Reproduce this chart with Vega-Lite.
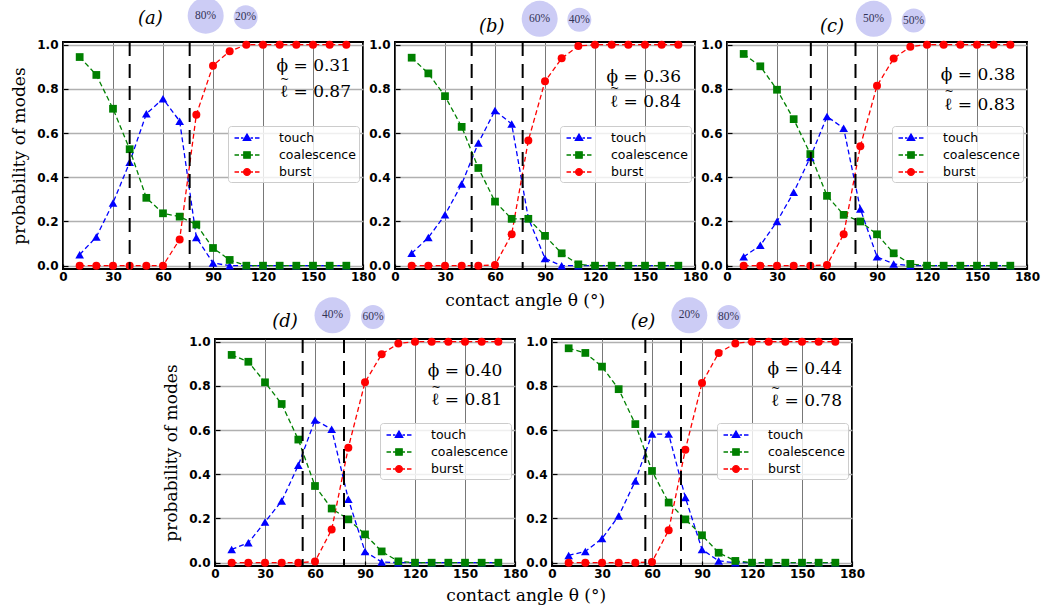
{
"$schema": "https://vega.github.io/schema/vega-lite/v6.json",
"background": "white",
"padding": {"left": 9, "top": -4, "right": 0, "bottom": 0},
"datasets": {
"series": [
{"panel":"a","mode":"touch","theta":10,"p":0.05},{"panel":"a","mode":"touch","theta":20,"p":0.13},{"panel":"a","mode":"touch","theta":30,"p":0.284},{"panel":"a","mode":"touch","theta":40,"p":0.468},{"panel":"a","mode":"touch","theta":50,"p":0.687},{"panel":"a","mode":"touch","theta":60,"p":0.755},{"panel":"a","mode":"touch","theta":70,"p":0.654},{"panel":"a","mode":"touch","theta":80,"p":0.128},{"panel":"a","mode":"touch","theta":90,"p":0.012},{"panel":"a","mode":"touch","theta":100,"p":0},{"panel":"a","mode":"touch","theta":110,"p":0},{"panel":"a","mode":"touch","theta":120,"p":0},{"panel":"a","mode":"touch","theta":130,"p":0},{"panel":"a","mode":"touch","theta":140,"p":0},{"panel":"a","mode":"touch","theta":150,"p":0},{"panel":"a","mode":"touch","theta":160,"p":0},{"panel":"a","mode":"touch","theta":170,"p":0},
{"panel":"a","mode":"coalescence","theta":10,"p":0.944},{"panel":"a","mode":"coalescence","theta":20,"p":0.863},{"panel":"a","mode":"coalescence","theta":30,"p":0.71},{"panel":"a","mode":"coalescence","theta":40,"p":0.527},{"panel":"a","mode":"coalescence","theta":50,"p":0.307},{"panel":"a","mode":"coalescence","theta":60,"p":0.237},{"panel":"a","mode":"coalescence","theta":70,"p":0.222},{"panel":"a","mode":"coalescence","theta":80,"p":0.186},{"panel":"a","mode":"coalescence","theta":90,"p":0.08},{"panel":"a","mode":"coalescence","theta":100,"p":0.026},{"panel":"a","mode":"coalescence","theta":110,"p":0},{"panel":"a","mode":"coalescence","theta":120,"p":0},{"panel":"a","mode":"coalescence","theta":130,"p":0},{"panel":"a","mode":"coalescence","theta":140,"p":0},{"panel":"a","mode":"coalescence","theta":150,"p":0},{"panel":"a","mode":"coalescence","theta":160,"p":0},{"panel":"a","mode":"coalescence","theta":170,"p":0},
{"panel":"a","mode":"burst","theta":10,"p":0},{"panel":"a","mode":"burst","theta":20,"p":0},{"panel":"a","mode":"burst","theta":30,"p":0},{"panel":"a","mode":"burst","theta":40,"p":0},{"panel":"a","mode":"burst","theta":50,"p":0},{"panel":"a","mode":"burst","theta":60,"p":0},{"panel":"a","mode":"burst","theta":70,"p":0.119},{"panel":"a","mode":"burst","theta":80,"p":0.683},{"panel":"a","mode":"burst","theta":90,"p":0.905},{"panel":"a","mode":"burst","theta":100,"p":0.97},{"panel":"a","mode":"burst","theta":110,"p":1},{"panel":"a","mode":"burst","theta":120,"p":1},{"panel":"a","mode":"burst","theta":130,"p":1},{"panel":"a","mode":"burst","theta":140,"p":1},{"panel":"a","mode":"burst","theta":150,"p":1},{"panel":"a","mode":"burst","theta":160,"p":1},{"panel":"a","mode":"burst","theta":170,"p":1},
{"panel":"b","mode":"touch","theta":10,"p":0.056},{"panel":"b","mode":"touch","theta":20,"p":0.127},{"panel":"b","mode":"touch","theta":30,"p":0.23},{"panel":"b","mode":"touch","theta":40,"p":0.369},{"panel":"b","mode":"touch","theta":50,"p":0.555},{"panel":"b","mode":"touch","theta":60,"p":0.702},{"panel":"b","mode":"touch","theta":70,"p":0.641},{"panel":"b","mode":"touch","theta":80,"p":0.215},{"panel":"b","mode":"touch","theta":90,"p":0.033},{"panel":"b","mode":"touch","theta":100,"p":0},{"panel":"b","mode":"touch","theta":110,"p":0},{"panel":"b","mode":"touch","theta":120,"p":0},{"panel":"b","mode":"touch","theta":130,"p":0},{"panel":"b","mode":"touch","theta":140,"p":0},{"panel":"b","mode":"touch","theta":150,"p":0},{"panel":"b","mode":"touch","theta":160,"p":0},{"panel":"b","mode":"touch","theta":170,"p":0},
{"panel":"b","mode":"coalescence","theta":10,"p":0.941},{"panel":"b","mode":"coalescence","theta":20,"p":0.87},{"panel":"b","mode":"coalescence","theta":30,"p":0.767},{"panel":"b","mode":"coalescence","theta":40,"p":0.628},{"panel":"b","mode":"coalescence","theta":50,"p":0.442},{"panel":"b","mode":"coalescence","theta":60,"p":0.29},{"panel":"b","mode":"coalescence","theta":70,"p":0.212},{"panel":"b","mode":"coalescence","theta":80,"p":0.212},{"panel":"b","mode":"coalescence","theta":90,"p":0.135},{"panel":"b","mode":"coalescence","theta":100,"p":0.056},{"panel":"b","mode":"coalescence","theta":110,"p":0.006},{"panel":"b","mode":"coalescence","theta":120,"p":0},{"panel":"b","mode":"coalescence","theta":130,"p":0},{"panel":"b","mode":"coalescence","theta":140,"p":0},{"panel":"b","mode":"coalescence","theta":150,"p":0},{"panel":"b","mode":"coalescence","theta":160,"p":0},{"panel":"b","mode":"coalescence","theta":170,"p":0},
{"panel":"b","mode":"burst","theta":10,"p":0},{"panel":"b","mode":"burst","theta":20,"p":0},{"panel":"b","mode":"burst","theta":30,"p":0},{"panel":"b","mode":"burst","theta":40,"p":0},{"panel":"b","mode":"burst","theta":50,"p":0},{"panel":"b","mode":"burst","theta":60,"p":0.003},{"panel":"b","mode":"burst","theta":70,"p":0.142},{"panel":"b","mode":"burst","theta":80,"p":0.566},{"panel":"b","mode":"burst","theta":90,"p":0.834},{"panel":"b","mode":"burst","theta":100,"p":0.938},{"panel":"b","mode":"burst","theta":110,"p":0.994},{"panel":"b","mode":"burst","theta":120,"p":1},{"panel":"b","mode":"burst","theta":130,"p":1},{"panel":"b","mode":"burst","theta":140,"p":1},{"panel":"b","mode":"burst","theta":150,"p":1},{"panel":"b","mode":"burst","theta":160,"p":1},{"panel":"b","mode":"burst","theta":170,"p":1},
{"panel":"c","mode":"touch","theta":10,"p":0.04},{"panel":"c","mode":"touch","theta":20,"p":0.092},{"panel":"c","mode":"touch","theta":30,"p":0.2},{"panel":"c","mode":"touch","theta":40,"p":0.332},{"panel":"c","mode":"touch","theta":50,"p":0.49},{"panel":"c","mode":"touch","theta":60,"p":0.675},{"panel":"c","mode":"touch","theta":70,"p":0.622},{"panel":"c","mode":"touch","theta":80,"p":0.257},{"panel":"c","mode":"touch","theta":90,"p":0.04},{"panel":"c","mode":"touch","theta":100,"p":0.008},{"panel":"c","mode":"touch","theta":110,"p":0},{"panel":"c","mode":"touch","theta":120,"p":0},{"panel":"c","mode":"touch","theta":130,"p":0},{"panel":"c","mode":"touch","theta":140,"p":0},{"panel":"c","mode":"touch","theta":150,"p":0},{"panel":"c","mode":"touch","theta":160,"p":0},{"panel":"c","mode":"touch","theta":170,"p":0},
{"panel":"c","mode":"coalescence","theta":10,"p":0.958},{"panel":"c","mode":"coalescence","theta":20,"p":0.902},{"panel":"c","mode":"coalescence","theta":30,"p":0.796},{"panel":"c","mode":"coalescence","theta":40,"p":0.663},{"panel":"c","mode":"coalescence","theta":50,"p":0.505},{"panel":"c","mode":"coalescence","theta":60,"p":0.316},{"panel":"c","mode":"coalescence","theta":70,"p":0.23},{"panel":"c","mode":"coalescence","theta":80,"p":0.2},{"panel":"c","mode":"coalescence","theta":90,"p":0.142},{"panel":"c","mode":"coalescence","theta":100,"p":0.056},{"panel":"c","mode":"coalescence","theta":110,"p":0.008},{"panel":"c","mode":"coalescence","theta":120,"p":0},{"panel":"c","mode":"coalescence","theta":130,"p":0},{"panel":"c","mode":"coalescence","theta":140,"p":0},{"panel":"c","mode":"coalescence","theta":150,"p":0},{"panel":"c","mode":"coalescence","theta":160,"p":0},{"panel":"c","mode":"coalescence","theta":170,"p":0},
{"panel":"c","mode":"burst","theta":10,"p":0},{"panel":"c","mode":"burst","theta":20,"p":0},{"panel":"c","mode":"burst","theta":30,"p":0},{"panel":"c","mode":"burst","theta":40,"p":0},{"panel":"c","mode":"burst","theta":50,"p":0},{"panel":"c","mode":"burst","theta":60,"p":0.003},{"panel":"c","mode":"burst","theta":70,"p":0.142},{"panel":"c","mode":"burst","theta":80,"p":0.54},{"panel":"c","mode":"burst","theta":90,"p":0.814},{"panel":"c","mode":"burst","theta":100,"p":0.937},{"panel":"c","mode":"burst","theta":110,"p":0.991},{"panel":"c","mode":"burst","theta":120,"p":1},{"panel":"c","mode":"burst","theta":130,"p":1},{"panel":"c","mode":"burst","theta":140,"p":1},{"panel":"c","mode":"burst","theta":150,"p":1},{"panel":"c","mode":"burst","theta":160,"p":1},{"panel":"c","mode":"burst","theta":170,"p":1},
{"panel":"d","mode":"touch","theta":10,"p":0.06},{"panel":"d","mode":"touch","theta":20,"p":0.09},{"panel":"d","mode":"touch","theta":30,"p":0.184},{"panel":"d","mode":"touch","theta":40,"p":0.279},{"panel":"d","mode":"touch","theta":50,"p":0.441},{"panel":"d","mode":"touch","theta":60,"p":0.645},{"panel":"d","mode":"touch","theta":70,"p":0.604},{"panel":"d","mode":"touch","theta":80,"p":0.287},{"panel":"d","mode":"touch","theta":90,"p":0.051},{"panel":"d","mode":"touch","theta":100,"p":0.003},{"panel":"d","mode":"touch","theta":110,"p":0},{"panel":"d","mode":"touch","theta":120,"p":0},{"panel":"d","mode":"touch","theta":130,"p":0},{"panel":"d","mode":"touch","theta":140,"p":0},{"panel":"d","mode":"touch","theta":150,"p":0},{"panel":"d","mode":"touch","theta":160,"p":0},{"panel":"d","mode":"touch","theta":170,"p":0},
{"panel":"d","mode":"coalescence","theta":10,"p":0.94},{"panel":"d","mode":"coalescence","theta":20,"p":0.909},{"panel":"d","mode":"coalescence","theta":30,"p":0.816},{"panel":"d","mode":"coalescence","theta":40,"p":0.718},{"panel":"d","mode":"coalescence","theta":50,"p":0.557},{"panel":"d","mode":"coalescence","theta":60,"p":0.347},{"panel":"d","mode":"coalescence","theta":70,"p":0.245},{"panel":"d","mode":"coalescence","theta":80,"p":0.196},{"panel":"d","mode":"coalescence","theta":90,"p":0.128},{"panel":"d","mode":"coalescence","theta":100,"p":0.051},{"panel":"d","mode":"coalescence","theta":110,"p":0.006},{"panel":"d","mode":"coalescence","theta":120,"p":0},{"panel":"d","mode":"coalescence","theta":130,"p":0},{"panel":"d","mode":"coalescence","theta":140,"p":0},{"panel":"d","mode":"coalescence","theta":150,"p":0},{"panel":"d","mode":"coalescence","theta":160,"p":0},{"panel":"d","mode":"coalescence","theta":170,"p":0},
{"panel":"d","mode":"burst","theta":10,"p":0},{"panel":"d","mode":"burst","theta":20,"p":0},{"panel":"d","mode":"burst","theta":30,"p":0},{"panel":"d","mode":"burst","theta":40,"p":0},{"panel":"d","mode":"burst","theta":50,"p":0},{"panel":"d","mode":"burst","theta":60,"p":0.005},{"panel":"d","mode":"burst","theta":70,"p":0.15},{"panel":"d","mode":"burst","theta":80,"p":0.52},{"panel":"d","mode":"burst","theta":90,"p":0.816},{"panel":"d","mode":"burst","theta":100,"p":0.943},{"panel":"d","mode":"burst","theta":110,"p":0.992},{"panel":"d","mode":"burst","theta":120,"p":1},{"panel":"d","mode":"burst","theta":130,"p":1},{"panel":"d","mode":"burst","theta":140,"p":1},{"panel":"d","mode":"burst","theta":150,"p":1},{"panel":"d","mode":"burst","theta":160,"p":1},{"panel":"d","mode":"burst","theta":170,"p":1},
{"panel":"e","mode":"touch","theta":10,"p":0.033},{"panel":"e","mode":"touch","theta":20,"p":0.051},{"panel":"e","mode":"touch","theta":30,"p":0.109},{"panel":"e","mode":"touch","theta":40,"p":0.211},{"panel":"e","mode":"touch","theta":50,"p":0.37},{"panel":"e","mode":"touch","theta":60,"p":0.582},{"panel":"e","mode":"touch","theta":70,"p":0.582},{"panel":"e","mode":"touch","theta":80,"p":0.295},{"panel":"e","mode":"touch","theta":90,"p":0.06},{"panel":"e","mode":"touch","theta":100,"p":0.008},{"panel":"e","mode":"touch","theta":110,"p":0},{"panel":"e","mode":"touch","theta":120,"p":0},{"panel":"e","mode":"touch","theta":130,"p":0},{"panel":"e","mode":"touch","theta":140,"p":0},{"panel":"e","mode":"touch","theta":150,"p":0},{"panel":"e","mode":"touch","theta":160,"p":0},{"panel":"e","mode":"touch","theta":170,"p":0},
{"panel":"e","mode":"coalescence","theta":10,"p":0.97},{"panel":"e","mode":"coalescence","theta":20,"p":0.949},{"panel":"e","mode":"coalescence","theta":30,"p":0.887},{"panel":"e","mode":"coalescence","theta":40,"p":0.785},{"panel":"e","mode":"coalescence","theta":50,"p":0.627},{"panel":"e","mode":"coalescence","theta":60,"p":0.415},{"panel":"e","mode":"coalescence","theta":70,"p":0.272},{"panel":"e","mode":"coalescence","theta":80,"p":0.196},{"panel":"e","mode":"coalescence","theta":90,"p":0.124},{"panel":"e","mode":"coalescence","theta":100,"p":0.045},{"panel":"e","mode":"coalescence","theta":110,"p":0.008},{"panel":"e","mode":"coalescence","theta":120,"p":0},{"panel":"e","mode":"coalescence","theta":130,"p":0},{"panel":"e","mode":"coalescence","theta":140,"p":0},{"panel":"e","mode":"coalescence","theta":150,"p":0},{"panel":"e","mode":"coalescence","theta":160,"p":0},{"panel":"e","mode":"coalescence","theta":170,"p":0},
{"panel":"e","mode":"burst","theta":10,"p":0},{"panel":"e","mode":"burst","theta":20,"p":0},{"panel":"e","mode":"burst","theta":30,"p":0},{"panel":"e","mode":"burst","theta":40,"p":0},{"panel":"e","mode":"burst","theta":50,"p":0},{"panel":"e","mode":"burst","theta":60,"p":0.003},{"panel":"e","mode":"burst","theta":70,"p":0.147},{"panel":"e","mode":"burst","theta":80,"p":0.511},{"panel":"e","mode":"burst","theta":90,"p":0.813},{"panel":"e","mode":"burst","theta":100,"p":0.949},{"panel":"e","mode":"burst","theta":110,"p":0.992},{"panel":"e","mode":"burst","theta":120,"p":1},{"panel":"e","mode":"burst","theta":130,"p":1},{"panel":"e","mode":"burst","theta":140,"p":1},{"panel":"e","mode":"burst","theta":150,"p":1},{"panel":"e","mode":"burst","theta":160,"p":1},{"panel":"e","mode":"burst","theta":170,"p":1}
],
"info": [
{"panel":"a","label":"(a)","big":"80%","small":"20%","phi":"\u03d5 = 0.31","ell":"\u2113 = 0.87","lo":40,"hi":76},
{"panel":"b","label":"(b)","big":"60%","small":"40%","phi":"\u03d5 = 0.36","ell":"\u2113 = 0.84","lo":46,"hi":76.6},
{"panel":"c","label":"(c)","big":"50%","small":"50%","phi":"\u03d5 = 0.38","ell":"\u2113 = 0.83","lo":50.3,"hi":77.1},
{"panel":"d","label":"(d)","big":"40%","small":"60%","phi":"\u03d5 = 0.40","ell":"\u2113 = 0.81","lo":52.6,"hi":77.4},
{"panel":"e","label":"(e)","big":"20%","small":"80%","phi":"\u03d5 = 0.44","ell":"\u2113 = 0.78","lo":56,"hi":77.4}
]
},
"spacing": -14,
"resolve": {"scale": {"color": "independent", "fill": "independent", "stroke": "independent", "shape": "independent"}, "legend": {"color": "independent", "fill": "independent", "stroke": "independent", "shape": "independent"}},
"vconcat": [
{"hconcat": [
{"width": 300, "height": 227, "layer": [
{"data": {"name": "series"}, "transform": [{"filter": "datum.panel === 'a'"}], "mark": {"type": "line", "strokeDash": [5, 3], "strokeWidth": 1.3},
 "encoding": {"x": {"field": "theta", "type": "quantitative", "scale": {"domain": [0, 180], "nice": false, "zero": false}, "axis": {"values": [0, 30, 60, 90, 120, 150, 180], "title": null}},
  "y": {"field": "p", "type": "quantitative", "scale": {"domain": [-0.015, 1.012], "nice": false, "zero": false}, "axis": {"values": [0, 0.2, 0.4, 0.6, 0.8, 1], "format": ".1f", "title": "probability of modes"}},
  "color": {"field": "mode", "type": "nominal", "scale": {"domain": ["burst", "coalescence", "touch"], "range": ["red", "green", "blue"]}, "legend": null}}},
{"data": {"name": "series"}, "transform": [{"filter": "datum.panel === 'a' && datum.mode === 'touch'"}], "mark": {"type": "point", "shape": "triangle-up", "filled": true, "opacity": 1, "size": 75}, "encoding": {"x": {"field": "theta", "type": "quantitative"}, "y": {"field": "p", "type": "quantitative"}, "color": {"field": "mode", "type": "nominal", "legend": null}}},
{"data": {"name": "series"}, "transform": [{"filter": "datum.panel === 'a' && datum.mode === 'coalescence'"}], "mark": {"type": "point", "shape": "square", "filled": true, "opacity": 1, "size": 60}, "encoding": {"x": {"field": "theta", "type": "quantitative"}, "y": {"field": "p", "type": "quantitative"}, "color": {"field": "mode", "type": "nominal", "legend": null}}},
{"data": {"name": "series"}, "transform": [{"filter": "datum.panel === 'a' && datum.mode === 'burst'"}], "mark": {"type": "point", "shape": "circle", "filled": true, "opacity": 1, "size": 64}, "encoding": {"x": {"field": "theta", "type": "quantitative"}, "y": {"field": "p", "type": "quantitative"}, "color": {"field": "mode", "type": "nominal", "legend": null}}},
{"data": {"name": "series"}, "transform": [{"filter": "datum.panel === 'a'"}], "mark": {"type": "point", "filled": true, "opacity": 0, "strokeWidth": 1.3},
 "encoding": {"x": {"field": "theta", "type": "quantitative"}, "y": {"field": "p", "type": "quantitative"},
  "fill": {"field": "mode", "type": "nominal", "scale": {"domain": ["touch", "coalescence", "burst"], "range": ["blue", "green", "red"]}, "legend": {"title": null, "orient": "none", "legendX": 165, "legendY": 84}},
  "stroke": {"field": "mode", "type": "nominal", "scale": {"domain": ["touch", "coalescence", "burst"], "range": ["blue", "green", "red"]}, "legend": {"title": null, "orient": "none", "legendX": 165, "legendY": 84}},
  "shape": {"field": "mode", "type": "nominal", "scale": {"domain": ["touch", "coalescence", "burst"], "range": ["M-1.56,0L-1,0M-0.75,0L-0.45,0M0.45,0L0.75,0M1,0L1.56,0M0,-0.5L0.46,0.3L-0.46,0.3Z", "M-1.56,0L-1,0M-0.75,0L-0.45,0M0.45,0L0.75,0M1,0L1.56,0M-0.4,-0.4L0.4,-0.4L0.4,0.4L-0.4,0.4Z", "M-1.56,0L-1,0M-0.75,0L-0.45,0M0.45,0L0.75,0M1,0L1.56,0M0.42,0A0.42,0.42,0,1,1,-0.42,0A0.42,0.42,0,1,1,0.42,0Z"]}, "legend": {"title": null, "orient": "none", "legendX": 165, "legendY": 84}}}},
{"data": {"name": "info"}, "transform": [{"filter": "datum.panel === 'a'"}], "mark": {"type": "rule", "color": "black", "strokeWidth": 2, "strokeDash": [14, 8]}, "encoding": {"x": {"field": "lo", "type": "quantitative"}}},
{"data": {"name": "info"}, "transform": [{"filter": "datum.panel === 'a'"}], "mark": {"type": "rule", "color": "black", "strokeWidth": 2, "strokeDash": [14, 8]}, "encoding": {"x": {"field": "hi", "type": "quantitative"}}},
{"data": {"name": "info"}, "transform": [{"filter": "datum.panel === 'a'"}], "mark": {"type": "text", "font": "DejaVu Serif", "fontStyle": "italic", "fontSize": 18, "baseline": "middle"}, "encoding": {"x": {"datum": 52.4}, "y": {"datum": 1.117}, "text": {"field": "label"}}},
{"data": {"name": "info"}, "transform": [{"filter": "datum.panel === 'a'"}], "mark": {"type": "point", "shape": "circle", "filled": true, "color": "#ccccf5", "opacity": 1, "size": 1296}, "encoding": {"x": {"datum": 85.6}, "y": {"datum": 1.131}}},
{"data": {"name": "info"}, "transform": [{"filter": "datum.panel === 'a'"}], "mark": {"type": "point", "shape": "circle", "filled": true, "color": "#ccccf5", "opacity": 1, "size": 576}, "encoding": {"x": {"datum": 109.6}, "y": {"datum": 1.124}}},
{"data": {"name": "info"}, "transform": [{"filter": "datum.panel === 'a'"}], "mark": {"type": "text", "font": "Liberation Serif", "fontSize": 11.5, "color": "#333355", "baseline": "middle"}, "encoding": {"x": {"datum": 85.6}, "y": {"datum": 1.131}, "text": {"field": "big"}}},
{"data": {"name": "info"}, "transform": [{"filter": "datum.panel === 'a'"}], "mark": {"type": "text", "font": "Liberation Serif", "fontSize": 11.5, "color": "#333355", "baseline": "middle"}, "encoding": {"x": {"datum": 109.6}, "y": {"datum": 1.124}, "text": {"field": "small"}}},
{"data": {"name": "info"}, "transform": [{"filter": "datum.panel === 'a'"}], "mark": {"type": "text", "font": "DejaVu Serif", "fontSize": 17, "align": "right", "baseline": "alphabetic"}, "encoding": {"x": {"datum": 172.8}, "y": {"datum": 0.879}, "text": {"field": "phi"}}},
{"data": {"name": "info"}, "transform": [{"filter": "datum.panel === 'a'"}], "mark": {"type": "text", "font": "DejaVu Serif", "fontSize": 17, "align": "right", "baseline": "alphabetic"}, "encoding": {"x": {"datum": 172.8}, "y": {"datum": 0.762}, "text": {"field": "ell"}}},
{"data": {"name": "info"}, "transform": [{"filter": "datum.panel === 'a'"}], "mark": {"type": "text", "text": "~", "font": "DejaVu Serif", "fontSize": 11, "baseline": "middle"}, "encoding": {"x": {"datum": 133}, "y": {"datum": 0.842}}}
]},
{"width": 300, "height": 227, "layer": [
{"data": {"name": "series"}, "transform": [{"filter": "datum.panel === 'b'"}], "mark": {"type": "line", "strokeDash": [5, 3], "strokeWidth": 1.3},
 "encoding": {"x": {"field": "theta", "type": "quantitative", "scale": {"domain": [0, 180], "nice": false, "zero": false}, "axis": {"values": [0, 30, 60, 90, 120, 150, 180], "title": "contact angle \u03b8 (\u00b0)", "titleX": 129.7, "titleY": 36.7, "titleAlign": "center", "titleBaseline": "alphabetic"}},
  "y": {"field": "p", "type": "quantitative", "scale": {"domain": [-0.015, 1.012], "nice": false, "zero": false}, "axis": {"values": [0, 0.2, 0.4, 0.6, 0.8, 1], "format": ".1f", "title": null}},
  "color": {"field": "mode", "type": "nominal", "scale": {"domain": ["burst", "coalescence", "touch"], "range": ["red", "green", "blue"]}, "legend": null}}},
{"data": {"name": "series"}, "transform": [{"filter": "datum.panel === 'b' && datum.mode === 'touch'"}], "mark": {"type": "point", "shape": "triangle-up", "filled": true, "opacity": 1, "size": 75}, "encoding": {"x": {"field": "theta", "type": "quantitative"}, "y": {"field": "p", "type": "quantitative"}, "color": {"field": "mode", "type": "nominal", "legend": null}}},
{"data": {"name": "series"}, "transform": [{"filter": "datum.panel === 'b' && datum.mode === 'coalescence'"}], "mark": {"type": "point", "shape": "square", "filled": true, "opacity": 1, "size": 60}, "encoding": {"x": {"field": "theta", "type": "quantitative"}, "y": {"field": "p", "type": "quantitative"}, "color": {"field": "mode", "type": "nominal", "legend": null}}},
{"data": {"name": "series"}, "transform": [{"filter": "datum.panel === 'b' && datum.mode === 'burst'"}], "mark": {"type": "point", "shape": "circle", "filled": true, "opacity": 1, "size": 64}, "encoding": {"x": {"field": "theta", "type": "quantitative"}, "y": {"field": "p", "type": "quantitative"}, "color": {"field": "mode", "type": "nominal", "legend": null}}},
{"data": {"name": "series"}, "transform": [{"filter": "datum.panel === 'b'"}], "mark": {"type": "point", "filled": true, "opacity": 0, "strokeWidth": 1.3},
 "encoding": {"x": {"field": "theta", "type": "quantitative"}, "y": {"field": "p", "type": "quantitative"},
  "fill": {"field": "mode", "type": "nominal", "scale": {"domain": ["touch", "coalescence", "burst"], "range": ["blue", "green", "red"]}, "legend": {"title": null, "orient": "none", "legendX": 165, "legendY": 84}},
  "stroke": {"field": "mode", "type": "nominal", "scale": {"domain": ["touch", "coalescence", "burst"], "range": ["blue", "green", "red"]}, "legend": {"title": null, "orient": "none", "legendX": 165, "legendY": 84}},
  "shape": {"field": "mode", "type": "nominal", "scale": {"domain": ["touch", "coalescence", "burst"], "range": ["M-1.56,0L-1,0M-0.75,0L-0.45,0M0.45,0L0.75,0M1,0L1.56,0M0,-0.5L0.46,0.3L-0.46,0.3Z", "M-1.56,0L-1,0M-0.75,0L-0.45,0M0.45,0L0.75,0M1,0L1.56,0M-0.4,-0.4L0.4,-0.4L0.4,0.4L-0.4,0.4Z", "M-1.56,0L-1,0M-0.75,0L-0.45,0M0.45,0L0.75,0M1,0L1.56,0M0.42,0A0.42,0.42,0,1,1,-0.42,0A0.42,0.42,0,1,1,0.42,0Z"]}, "legend": {"title": null, "orient": "none", "legendX": 165, "legendY": 84}}}},
{"data": {"name": "info"}, "transform": [{"filter": "datum.panel === 'b'"}], "mark": {"type": "rule", "color": "black", "strokeWidth": 2, "strokeDash": [14, 8]}, "encoding": {"x": {"field": "lo", "type": "quantitative"}}},
{"data": {"name": "info"}, "transform": [{"filter": "datum.panel === 'b'"}], "mark": {"type": "rule", "color": "black", "strokeWidth": 2, "strokeDash": [14, 8]}, "encoding": {"x": {"field": "hi", "type": "quantitative"}}},
{"data": {"name": "info"}, "transform": [{"filter": "datum.panel === 'b'"}], "mark": {"type": "text", "font": "DejaVu Serif", "fontStyle": "italic", "fontSize": 18, "baseline": "middle"}, "encoding": {"x": {"datum": 58}, "y": {"datum": 1.079}, "text": {"field": "label"}}},
{"data": {"name": "info"}, "transform": [{"filter": "datum.panel === 'b'"}], "mark": {"type": "point", "shape": "circle", "filled": true, "color": "#ccccf5", "opacity": 1, "size": 1296}, "encoding": {"x": {"datum": 86.8}, "y": {"datum": 1.117}}},
{"data": {"name": "info"}, "transform": [{"filter": "datum.panel === 'b'"}], "mark": {"type": "point", "shape": "circle", "filled": true, "color": "#ccccf5", "opacity": 1, "size": 576}, "encoding": {"x": {"datum": 110.6}, "y": {"datum": 1.113}}},
{"data": {"name": "info"}, "transform": [{"filter": "datum.panel === 'b'"}], "mark": {"type": "text", "font": "Liberation Serif", "fontSize": 11.5, "color": "#333355", "baseline": "middle"}, "encoding": {"x": {"datum": 86.8}, "y": {"datum": 1.117}, "text": {"field": "big"}}},
{"data": {"name": "info"}, "transform": [{"filter": "datum.panel === 'b'"}], "mark": {"type": "text", "font": "Liberation Serif", "fontSize": 11.5, "color": "#333355", "baseline": "middle"}, "encoding": {"x": {"datum": 110.6}, "y": {"datum": 1.113}, "text": {"field": "small"}}},
{"data": {"name": "info"}, "transform": [{"filter": "datum.panel === 'b'"}], "mark": {"type": "text", "font": "DejaVu Serif", "fontSize": 17, "align": "right", "baseline": "alphabetic"}, "encoding": {"x": {"datum": 171.6}, "y": {"datum": 0.831}, "text": {"field": "phi"}}},
{"data": {"name": "info"}, "transform": [{"filter": "datum.panel === 'b'"}], "mark": {"type": "text", "font": "DejaVu Serif", "fontSize": 17, "align": "right", "baseline": "alphabetic"}, "encoding": {"x": {"datum": 171.6}, "y": {"datum": 0.72}, "text": {"field": "ell"}}},
{"data": {"name": "info"}, "transform": [{"filter": "datum.panel === 'b'"}], "mark": {"type": "text", "text": "~", "font": "DejaVu Serif", "fontSize": 11, "baseline": "middle"}, "encoding": {"x": {"datum": 131.8}, "y": {"datum": 0.8}}}
]},
{"width": 300, "height": 227, "layer": [
{"data": {"name": "series"}, "transform": [{"filter": "datum.panel === 'c'"}], "mark": {"type": "line", "strokeDash": [5, 3], "strokeWidth": 1.3},
 "encoding": {"x": {"field": "theta", "type": "quantitative", "scale": {"domain": [0, 180], "nice": false, "zero": false}, "axis": {"values": [0, 30, 60, 90, 120, 150, 180], "title": null}},
  "y": {"field": "p", "type": "quantitative", "scale": {"domain": [-0.015, 1.012], "nice": false, "zero": false}, "axis": {"values": [0, 0.2, 0.4, 0.6, 0.8, 1], "format": ".1f", "title": null}},
  "color": {"field": "mode", "type": "nominal", "scale": {"domain": ["burst", "coalescence", "touch"], "range": ["red", "green", "blue"]}, "legend": null}}},
{"data": {"name": "series"}, "transform": [{"filter": "datum.panel === 'c' && datum.mode === 'touch'"}], "mark": {"type": "point", "shape": "triangle-up", "filled": true, "opacity": 1, "size": 75}, "encoding": {"x": {"field": "theta", "type": "quantitative"}, "y": {"field": "p", "type": "quantitative"}, "color": {"field": "mode", "type": "nominal", "legend": null}}},
{"data": {"name": "series"}, "transform": [{"filter": "datum.panel === 'c' && datum.mode === 'coalescence'"}], "mark": {"type": "point", "shape": "square", "filled": true, "opacity": 1, "size": 60}, "encoding": {"x": {"field": "theta", "type": "quantitative"}, "y": {"field": "p", "type": "quantitative"}, "color": {"field": "mode", "type": "nominal", "legend": null}}},
{"data": {"name": "series"}, "transform": [{"filter": "datum.panel === 'c' && datum.mode === 'burst'"}], "mark": {"type": "point", "shape": "circle", "filled": true, "opacity": 1, "size": 64}, "encoding": {"x": {"field": "theta", "type": "quantitative"}, "y": {"field": "p", "type": "quantitative"}, "color": {"field": "mode", "type": "nominal", "legend": null}}},
{"data": {"name": "series"}, "transform": [{"filter": "datum.panel === 'c'"}], "mark": {"type": "point", "filled": true, "opacity": 0, "strokeWidth": 1.3},
 "encoding": {"x": {"field": "theta", "type": "quantitative"}, "y": {"field": "p", "type": "quantitative"},
  "fill": {"field": "mode", "type": "nominal", "scale": {"domain": ["touch", "coalescence", "burst"], "range": ["blue", "green", "red"]}, "legend": {"title": null, "orient": "none", "legendX": 165, "legendY": 84}},
  "stroke": {"field": "mode", "type": "nominal", "scale": {"domain": ["touch", "coalescence", "burst"], "range": ["blue", "green", "red"]}, "legend": {"title": null, "orient": "none", "legendX": 165, "legendY": 84}},
  "shape": {"field": "mode", "type": "nominal", "scale": {"domain": ["touch", "coalescence", "burst"], "range": ["M-1.56,0L-1,0M-0.75,0L-0.45,0M0.45,0L0.75,0M1,0L1.56,0M0,-0.5L0.46,0.3L-0.46,0.3Z", "M-1.56,0L-1,0M-0.75,0L-0.45,0M0.45,0L0.75,0M1,0L1.56,0M-0.4,-0.4L0.4,-0.4L0.4,0.4L-0.4,0.4Z", "M-1.56,0L-1,0M-0.75,0L-0.45,0M0.45,0L0.75,0M1,0L1.56,0M0.42,0A0.42,0.42,0,1,1,-0.42,0A0.42,0.42,0,1,1,0.42,0Z"]}, "legend": {"title": null, "orient": "none", "legendX": 165, "legendY": 84}}}},
{"data": {"name": "info"}, "transform": [{"filter": "datum.panel === 'c'"}], "mark": {"type": "rule", "color": "black", "strokeWidth": 2, "strokeDash": [14, 8]}, "encoding": {"x": {"field": "lo", "type": "quantitative"}}},
{"data": {"name": "info"}, "transform": [{"filter": "datum.panel === 'c'"}], "mark": {"type": "rule", "color": "black", "strokeWidth": 2, "strokeDash": [14, 8]}, "encoding": {"x": {"field": "hi", "type": "quantitative"}}},
{"data": {"name": "info"}, "transform": [{"filter": "datum.panel === 'c'"}], "mark": {"type": "text", "font": "DejaVu Serif", "fontStyle": "italic", "fontSize": 18, "baseline": "middle"}, "encoding": {"x": {"datum": 63}, "y": {"datum": 1.082}, "text": {"field": "label"}}},
{"data": {"name": "info"}, "transform": [{"filter": "datum.panel === 'c'"}], "mark": {"type": "point", "shape": "circle", "filled": true, "color": "#ccccf5", "opacity": 1, "size": 1296}, "encoding": {"x": {"datum": 88}, "y": {"datum": 1.117}}},
{"data": {"name": "info"}, "transform": [{"filter": "datum.panel === 'c'"}], "mark": {"type": "point", "shape": "circle", "filled": true, "color": "#ccccf5", "opacity": 1, "size": 576}, "encoding": {"x": {"datum": 112}, "y": {"datum": 1.109}}},
{"data": {"name": "info"}, "transform": [{"filter": "datum.panel === 'c'"}], "mark": {"type": "text", "font": "Liberation Serif", "fontSize": 11.5, "color": "#333355", "baseline": "middle"}, "encoding": {"x": {"datum": 88}, "y": {"datum": 1.117}, "text": {"field": "big"}}},
{"data": {"name": "info"}, "transform": [{"filter": "datum.panel === 'c'"}], "mark": {"type": "text", "font": "Liberation Serif", "fontSize": 11.5, "color": "#333355", "baseline": "middle"}, "encoding": {"x": {"datum": 112}, "y": {"datum": 1.109}, "text": {"field": "small"}}},
{"data": {"name": "info"}, "transform": [{"filter": "datum.panel === 'c'"}], "mark": {"type": "text", "font": "DejaVu Serif", "fontSize": 17, "align": "right", "baseline": "alphabetic"}, "encoding": {"x": {"datum": 173}, "y": {"datum": 0.842}, "text": {"field": "phi"}}},
{"data": {"name": "info"}, "transform": [{"filter": "datum.panel === 'c'"}], "mark": {"type": "text", "font": "DejaVu Serif", "fontSize": 17, "align": "right", "baseline": "alphabetic"}, "encoding": {"x": {"datum": 173}, "y": {"datum": 0.705}, "text": {"field": "ell"}}},
{"data": {"name": "info"}, "transform": [{"filter": "datum.panel === 'c'"}], "mark": {"type": "text", "text": "~", "font": "DejaVu Serif", "fontSize": 11, "baseline": "middle"}, "encoding": {"x": {"datum": 133.2}, "y": {"datum": 0.785}}}
]}
], "spacing": 32, "bounds": "flush", "resolve": {"scale": {"color": "independent", "fill": "independent", "stroke": "independent", "shape": "independent"}, "legend": {"color": "independent", "fill": "independent", "stroke": "independent", "shape": "independent"}}},
{"hconcat": [
{"width": 115, "height": 10, "view": {"stroke": null}, "data": {"values": [{}]}, "mark": {"type": "text", "text": ""}},
{"width": 300, "height": 227, "layer": [
{"data": {"name": "series"}, "transform": [{"filter": "datum.panel === 'd'"}], "mark": {"type": "line", "strokeDash": [5, 3], "strokeWidth": 1.3},
 "encoding": {"x": {"field": "theta", "type": "quantitative", "scale": {"domain": [0, 180], "nice": false, "zero": false}, "axis": {"values": [0, 30, 60, 90, 120, 150, 180], "title": "contact angle \u03b8 (\u00b0)", "titleX": 310.7, "titleY": 34.4, "titleAlign": "center", "titleBaseline": "alphabetic"}},
  "y": {"field": "p", "type": "quantitative", "scale": {"domain": [-0.015, 1.012], "nice": false, "zero": false}, "axis": {"values": [0, 0.2, 0.4, 0.6, 0.8, 1], "format": ".1f", "title": "probability of modes"}},
  "color": {"field": "mode", "type": "nominal", "scale": {"domain": ["burst", "coalescence", "touch"], "range": ["red", "green", "blue"]}, "legend": null}}},
{"data": {"name": "series"}, "transform": [{"filter": "datum.panel === 'd' && datum.mode === 'touch'"}], "mark": {"type": "point", "shape": "triangle-up", "filled": true, "opacity": 1, "size": 75}, "encoding": {"x": {"field": "theta", "type": "quantitative"}, "y": {"field": "p", "type": "quantitative"}, "color": {"field": "mode", "type": "nominal", "legend": null}}},
{"data": {"name": "series"}, "transform": [{"filter": "datum.panel === 'd' && datum.mode === 'coalescence'"}], "mark": {"type": "point", "shape": "square", "filled": true, "opacity": 1, "size": 60}, "encoding": {"x": {"field": "theta", "type": "quantitative"}, "y": {"field": "p", "type": "quantitative"}, "color": {"field": "mode", "type": "nominal", "legend": null}}},
{"data": {"name": "series"}, "transform": [{"filter": "datum.panel === 'd' && datum.mode === 'burst'"}], "mark": {"type": "point", "shape": "circle", "filled": true, "opacity": 1, "size": 64}, "encoding": {"x": {"field": "theta", "type": "quantitative"}, "y": {"field": "p", "type": "quantitative"}, "color": {"field": "mode", "type": "nominal", "legend": null}}},
{"data": {"name": "series"}, "transform": [{"filter": "datum.panel === 'd'"}], "mark": {"type": "point", "filled": true, "opacity": 0, "strokeWidth": 1.3},
 "encoding": {"x": {"field": "theta", "type": "quantitative"}, "y": {"field": "p", "type": "quantitative"},
  "fill": {"field": "mode", "type": "nominal", "scale": {"domain": ["touch", "coalescence", "burst"], "range": ["blue", "green", "red"]}, "legend": {"title": null, "orient": "none", "legendX": 165, "legendY": 84}},
  "stroke": {"field": "mode", "type": "nominal", "scale": {"domain": ["touch", "coalescence", "burst"], "range": ["blue", "green", "red"]}, "legend": {"title": null, "orient": "none", "legendX": 165, "legendY": 84}},
  "shape": {"field": "mode", "type": "nominal", "scale": {"domain": ["touch", "coalescence", "burst"], "range": ["M-1.56,0L-1,0M-0.75,0L-0.45,0M0.45,0L0.75,0M1,0L1.56,0M0,-0.5L0.46,0.3L-0.46,0.3Z", "M-1.56,0L-1,0M-0.75,0L-0.45,0M0.45,0L0.75,0M1,0L1.56,0M-0.4,-0.4L0.4,-0.4L0.4,0.4L-0.4,0.4Z", "M-1.56,0L-1,0M-0.75,0L-0.45,0M0.45,0L0.75,0M1,0L1.56,0M0.42,0A0.42,0.42,0,1,1,-0.42,0A0.42,0.42,0,1,1,0.42,0Z"]}, "legend": {"title": null, "orient": "none", "legendX": 165, "legendY": 84}}}},
{"data": {"name": "info"}, "transform": [{"filter": "datum.panel === 'd'"}], "mark": {"type": "rule", "color": "black", "strokeWidth": 2, "strokeDash": [14, 8]}, "encoding": {"x": {"field": "lo", "type": "quantitative"}}},
{"data": {"name": "info"}, "transform": [{"filter": "datum.panel === 'd'"}], "mark": {"type": "rule", "color": "black", "strokeWidth": 2, "strokeDash": [14, 8]}, "encoding": {"x": {"field": "hi", "type": "quantitative"}}},
{"data": {"name": "info"}, "transform": [{"filter": "datum.panel === 'd'"}], "mark": {"type": "text", "font": "DejaVu Serif", "fontStyle": "italic", "fontSize": 18, "baseline": "middle"}, "encoding": {"x": {"datum": 42}, "y": {"datum": 1.089}, "text": {"field": "label"}}},
{"data": {"name": "info"}, "transform": [{"filter": "datum.panel === 'd'"}], "mark": {"type": "point", "shape": "circle", "filled": true, "color": "#ccccf5", "opacity": 1, "size": 1296}, "encoding": {"x": {"datum": 70.5}, "y": {"datum": 1.119}}},
{"data": {"name": "info"}, "transform": [{"filter": "datum.panel === 'd'"}], "mark": {"type": "point", "shape": "circle", "filled": true, "color": "#ccccf5", "opacity": 1, "size": 576}, "encoding": {"x": {"datum": 94.8}, "y": {"datum": 1.112}}},
{"data": {"name": "info"}, "transform": [{"filter": "datum.panel === 'd'"}], "mark": {"type": "text", "font": "Liberation Serif", "fontSize": 11.5, "color": "#333355", "baseline": "middle"}, "encoding": {"x": {"datum": 70.5}, "y": {"datum": 1.119}, "text": {"field": "big"}}},
{"data": {"name": "info"}, "transform": [{"filter": "datum.panel === 'd'"}], "mark": {"type": "text", "font": "Liberation Serif", "fontSize": 11.5, "color": "#333355", "baseline": "middle"}, "encoding": {"x": {"datum": 94.8}, "y": {"datum": 1.112}, "text": {"field": "small"}}},
{"data": {"name": "info"}, "transform": [{"filter": "datum.panel === 'd'"}], "mark": {"type": "text", "font": "DejaVu Serif", "fontSize": 17, "align": "right", "baseline": "alphabetic"}, "encoding": {"x": {"datum": 172.4}, "y": {"datum": 0.845}, "text": {"field": "phi"}}},
{"data": {"name": "info"}, "transform": [{"filter": "datum.panel === 'd'"}], "mark": {"type": "text", "font": "DejaVu Serif", "fontSize": 17, "align": "right", "baseline": "alphabetic"}, "encoding": {"x": {"datum": 172.4}, "y": {"datum": 0.712}, "text": {"field": "ell"}}},
{"data": {"name": "info"}, "transform": [{"filter": "datum.panel === 'd'"}], "mark": {"type": "text", "text": "~", "font": "DejaVu Serif", "fontSize": 11, "baseline": "middle"}, "encoding": {"x": {"datum": 132.6}, "y": {"datum": 0.792}}}
]},
{"width": 300, "height": 227, "layer": [
{"data": {"name": "series"}, "transform": [{"filter": "datum.panel === 'e'"}], "mark": {"type": "line", "strokeDash": [5, 3], "strokeWidth": 1.3},
 "encoding": {"x": {"field": "theta", "type": "quantitative", "scale": {"domain": [0, 180], "nice": false, "zero": false}, "axis": {"values": [0, 30, 60, 90, 120, 150, 180], "title": null}},
  "y": {"field": "p", "type": "quantitative", "scale": {"domain": [-0.015, 1.012], "nice": false, "zero": false}, "axis": {"values": [0, 0.2, 0.4, 0.6, 0.8, 1], "format": ".1f", "title": null}},
  "color": {"field": "mode", "type": "nominal", "scale": {"domain": ["burst", "coalescence", "touch"], "range": ["red", "green", "blue"]}, "legend": null}}},
{"data": {"name": "series"}, "transform": [{"filter": "datum.panel === 'e' && datum.mode === 'touch'"}], "mark": {"type": "point", "shape": "triangle-up", "filled": true, "opacity": 1, "size": 75}, "encoding": {"x": {"field": "theta", "type": "quantitative"}, "y": {"field": "p", "type": "quantitative"}, "color": {"field": "mode", "type": "nominal", "legend": null}}},
{"data": {"name": "series"}, "transform": [{"filter": "datum.panel === 'e' && datum.mode === 'coalescence'"}], "mark": {"type": "point", "shape": "square", "filled": true, "opacity": 1, "size": 60}, "encoding": {"x": {"field": "theta", "type": "quantitative"}, "y": {"field": "p", "type": "quantitative"}, "color": {"field": "mode", "type": "nominal", "legend": null}}},
{"data": {"name": "series"}, "transform": [{"filter": "datum.panel === 'e' && datum.mode === 'burst'"}], "mark": {"type": "point", "shape": "circle", "filled": true, "opacity": 1, "size": 64}, "encoding": {"x": {"field": "theta", "type": "quantitative"}, "y": {"field": "p", "type": "quantitative"}, "color": {"field": "mode", "type": "nominal", "legend": null}}},
{"data": {"name": "series"}, "transform": [{"filter": "datum.panel === 'e'"}], "mark": {"type": "point", "filled": true, "opacity": 0, "strokeWidth": 1.3},
 "encoding": {"x": {"field": "theta", "type": "quantitative"}, "y": {"field": "p", "type": "quantitative"},
  "fill": {"field": "mode", "type": "nominal", "scale": {"domain": ["touch", "coalescence", "burst"], "range": ["blue", "green", "red"]}, "legend": {"title": null, "orient": "none", "legendX": 165, "legendY": 84}},
  "stroke": {"field": "mode", "type": "nominal", "scale": {"domain": ["touch", "coalescence", "burst"], "range": ["blue", "green", "red"]}, "legend": {"title": null, "orient": "none", "legendX": 165, "legendY": 84}},
  "shape": {"field": "mode", "type": "nominal", "scale": {"domain": ["touch", "coalescence", "burst"], "range": ["M-1.56,0L-1,0M-0.75,0L-0.45,0M0.45,0L0.75,0M1,0L1.56,0M0,-0.5L0.46,0.3L-0.46,0.3Z", "M-1.56,0L-1,0M-0.75,0L-0.45,0M0.45,0L0.75,0M1,0L1.56,0M-0.4,-0.4L0.4,-0.4L0.4,0.4L-0.4,0.4Z", "M-1.56,0L-1,0M-0.75,0L-0.45,0M0.45,0L0.75,0M1,0L1.56,0M0.42,0A0.42,0.42,0,1,1,-0.42,0A0.42,0.42,0,1,1,0.42,0Z"]}, "legend": {"title": null, "orient": "none", "legendX": 165, "legendY": 84}}}},
{"data": {"name": "info"}, "transform": [{"filter": "datum.panel === 'e'"}], "mark": {"type": "rule", "color": "black", "strokeWidth": 2, "strokeDash": [14, 8]}, "encoding": {"x": {"field": "lo", "type": "quantitative"}}},
{"data": {"name": "info"}, "transform": [{"filter": "datum.panel === 'e'"}], "mark": {"type": "rule", "color": "black", "strokeWidth": 2, "strokeDash": [14, 8]}, "encoding": {"x": {"field": "hi", "type": "quantitative"}}},
{"data": {"name": "info"}, "transform": [{"filter": "datum.panel === 'e'"}], "mark": {"type": "text", "font": "DejaVu Serif", "fontStyle": "italic", "fontSize": 18, "baseline": "middle"}, "encoding": {"x": {"datum": 54.6}, "y": {"datum": 1.089}, "text": {"field": "label"}}},
{"data": {"name": "info"}, "transform": [{"filter": "datum.panel === 'e'"}], "mark": {"type": "point", "shape": "circle", "filled": true, "color": "#ccccf5", "opacity": 1, "size": 1296}, "encoding": {"x": {"datum": 82.4}, "y": {"datum": 1.119}}},
{"data": {"name": "info"}, "transform": [{"filter": "datum.panel === 'e'"}], "mark": {"type": "point", "shape": "circle", "filled": true, "color": "#ccccf5", "opacity": 1, "size": 576}, "encoding": {"x": {"datum": 106}, "y": {"datum": 1.112}}},
{"data": {"name": "info"}, "transform": [{"filter": "datum.panel === 'e'"}], "mark": {"type": "text", "font": "Liberation Serif", "fontSize": 11.5, "color": "#333355", "baseline": "middle"}, "encoding": {"x": {"datum": 82.4}, "y": {"datum": 1.119}, "text": {"field": "big"}}},
{"data": {"name": "info"}, "transform": [{"filter": "datum.panel === 'e'"}], "mark": {"type": "text", "font": "Liberation Serif", "fontSize": 11.5, "color": "#333355", "baseline": "middle"}, "encoding": {"x": {"datum": 106}, "y": {"datum": 1.112}, "text": {"field": "small"}}},
{"data": {"name": "info"}, "transform": [{"filter": "datum.panel === 'e'"}], "mark": {"type": "text", "font": "DejaVu Serif", "fontSize": 17, "align": "right", "baseline": "alphabetic"}, "encoding": {"x": {"datum": 174}, "y": {"datum": 0.852}, "text": {"field": "phi"}}},
{"data": {"name": "info"}, "transform": [{"filter": "datum.panel === 'e'"}], "mark": {"type": "text", "font": "DejaVu Serif", "fontSize": 17, "align": "right", "baseline": "alphabetic"}, "encoding": {"x": {"datum": 174}, "y": {"datum": 0.707}, "text": {"field": "ell"}}},
{"data": {"name": "info"}, "transform": [{"filter": "datum.panel === 'e'"}], "mark": {"type": "text", "text": "~", "font": "DejaVu Serif", "fontSize": 11, "baseline": "middle"}, "encoding": {"x": {"datum": 134.2}, "y": {"datum": 0.787}}}
]}
], "spacing": 37, "bounds": "flush", "resolve": {"scale": {"color": "independent", "fill": "independent", "stroke": "independent", "shape": "independent"}, "legend": {"color": "independent", "fill": "independent", "stroke": "independent", "shape": "independent"}}}
],
"config": {
 "view": {"stroke": "black", "strokeWidth": 2},
 "axis": {"domain": false, "tickSize": -5, "tickColor": "black", "tickWidth": 1.2, "labelFont": "DejaVu Sans", "labelFontWeight": "bold", "labelFontSize": 12, "labelColor": "black", "titleFont": "DejaVu Serif", "titleFontWeight": "normal", "titleFontSize": 17, "titleColor": "black", "grid": true, "labelFlush": false, "gridOpacity": 1},
 "axisX": {"gridColor": "#555555", "gridWidth": 0.8, "labelPadding": 7},
 "axisY": {"gridColor": "#b0b0b0", "gridWidth": 1.5, "labelPadding": 10, "titlePadding": 8},
 "legend": {"padding": 3, "fillColor": "rgba(255,255,255,0.8)", "strokeColor": "#cccccc", "cornerRadius": 3, "symbolSize": 256, "symbolOffset": 7, "symbolOpacity": 1, "symbolStrokeWidth": 1.3, "labelOffset": 23, "rowPadding": 1, "labelFont": "DejaVu Sans", "labelFontSize": 12.5, "labelColor": "black", "labelLimit": 200}
}
}
